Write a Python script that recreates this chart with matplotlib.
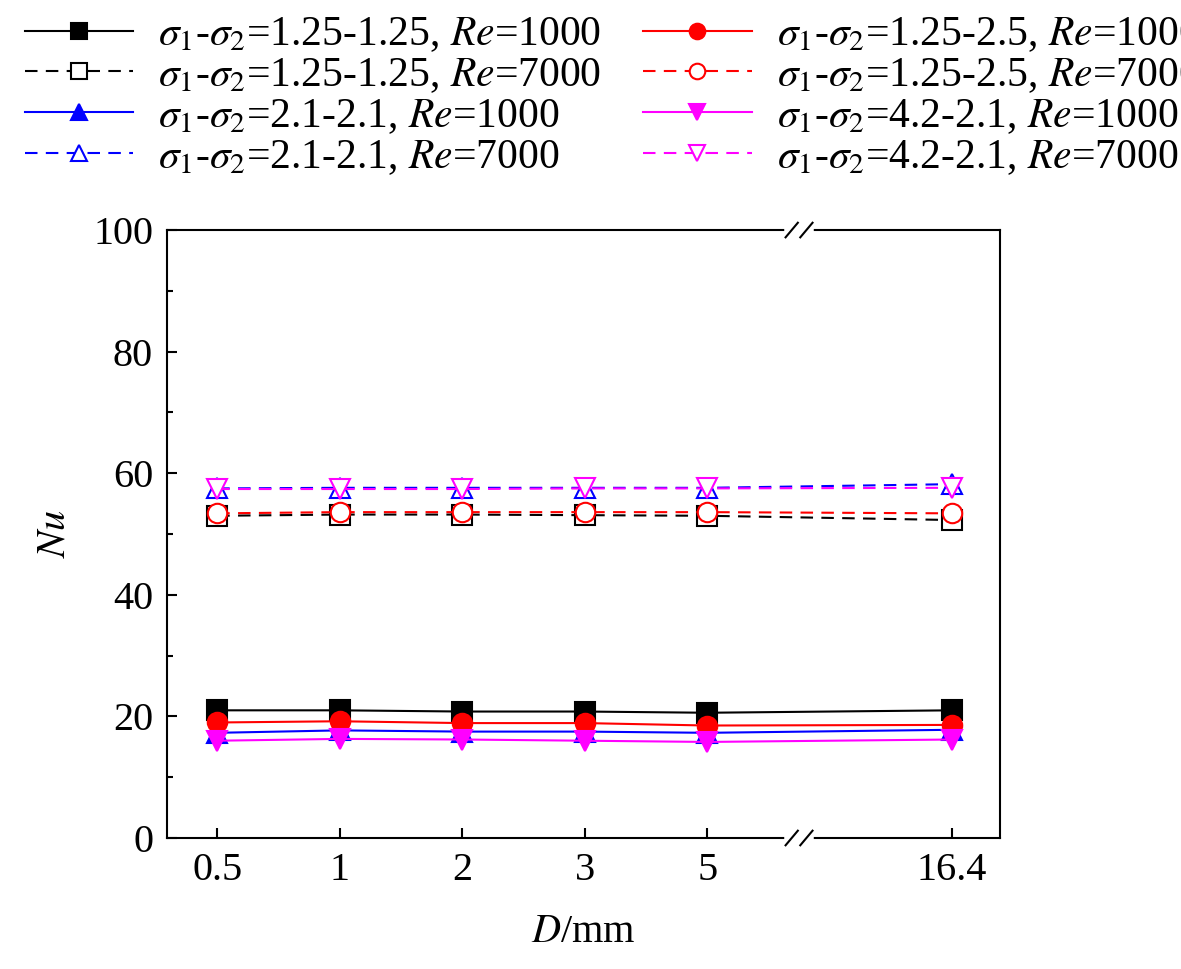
import matplotlib
matplotlib.use("Agg")
import matplotlib.pyplot as plt

plt.rcParams['font.family'] = ['Liberation Serif', 'DejaVu Serif']
plt.rcParams['mathtext.fontset'] = 'stix'

d_labels = ['0.5', '1', '2', '3', '5', '16.4']
x_pos = [0, 1, 2, 3, 4, 6]

bk_1000 = [21.0, 21.0, 20.8, 20.8, 20.6, 21.0]
bk_7000 = [53.0, 53.2, 53.2, 53.1, 53.0, 52.3]
bl_1000 = [17.3, 17.7, 17.5, 17.5, 17.3, 17.8]
bl_7000 = [57.5, 57.6, 57.6, 57.6, 57.6, 58.2]
rd_1000 = [19.0, 19.2, 18.9, 18.9, 18.5, 18.6]
rd_7000 = [53.4, 53.6, 53.6, 53.6, 53.6, 53.4]
mg_1000 = [16.0, 16.3, 16.2, 16.0, 15.8, 16.2]
mg_7000 = [57.4, 57.4, 57.4, 57.5, 57.5, 57.6]

series = [
    (bk_1000, 'black', 's', True, '1.25-1.25', '1000'),
    (bk_7000, 'black', 's', False, '1.25-1.25', '7000'),
    (bl_1000, 'blue', '^', True, '2.1-2.1', '1000'),
    (bl_7000, 'blue', '^', False, '2.1-2.1', '7000'),
    (rd_1000, 'red', 'o', True, '1.25-2.5', '1000'),
    (rd_7000, 'red', 'o', False, '1.25-2.5', '7000'),
    (mg_1000, 'magenta', 'v', True, '4.2-2.1', '1000'),
    (mg_7000, 'magenta', 'v', False, '4.2-2.1', '7000'),
]

fig = plt.figure(figsize=(11.81, 9.69), dpi=100)
ax = fig.add_axes([0.1414, 0.1352, 0.7053, 0.6274])

handles = []
for ys, c, m, filled, sig, re in series:
    label = r'$\sigma_1$-$\sigma_2$=' + sig + r', $Re$=' + re
    h, = ax.plot(x_pos, ys, color=c, marker=m, markersize=14,
                 linestyle='-' if filled else (0, (6, 4)), linewidth=1.5,
                 markerfacecolor=c if filled else 'white', markeredgecolor=c,
                 markeredgewidth=1.5, label=label)
    handles.append(h)

ax.set_xlim(-0.41, 6.39)
ax.set_ylim(0, 100)
ax.set_xticks(x_pos)
ax.set_xticklabels(d_labels)
ax.set_yticks(range(0, 101, 20))
ax.set_yticks(range(10, 100, 20), minor=True)
ax.tick_params(direction='in', labelsize=29, length=7, width=1.5, top=False, right=False, pad=10)
ax.tick_params(which='minor', direction='in', length=4, width=1.5)
for s in ax.spines.values():
    s.set_linewidth(1.5)
ax.set_xlabel(r'$D$/mm', fontsize=29, labelpad=18)
ax.set_ylabel(r'$Nu$', fontsize=29, labelpad=14)

# axis break marks
bx = 4.75
for yy in (0, 1):
    ax.plot([bx - 0.1, bx + 0.1], [yy, yy], transform=ax.get_xaxis_transform(),
            color='white', linewidth=4, clip_on=False, zorder=5)
    for off in (-0.06, 0.06):
        ax.plot([bx + off - 0.05, bx + off + 0.05], [yy - 0.012, yy + 0.012],
                transform=ax.get_xaxis_transform(), color='black', linewidth=1.5,
                clip_on=False, zorder=6)

fig.legend(handles=handles, ncol=2, loc='upper left', bbox_to_anchor=(0.0, 1.01),
           frameon=False, fontsize=30, handlelength=2.6, columnspacing=1.0,
           labelspacing=0.05, handletextpad=0.6, borderaxespad=0.2, markerscale=0.8)

fig.savefig('out.png', dpi=100)
